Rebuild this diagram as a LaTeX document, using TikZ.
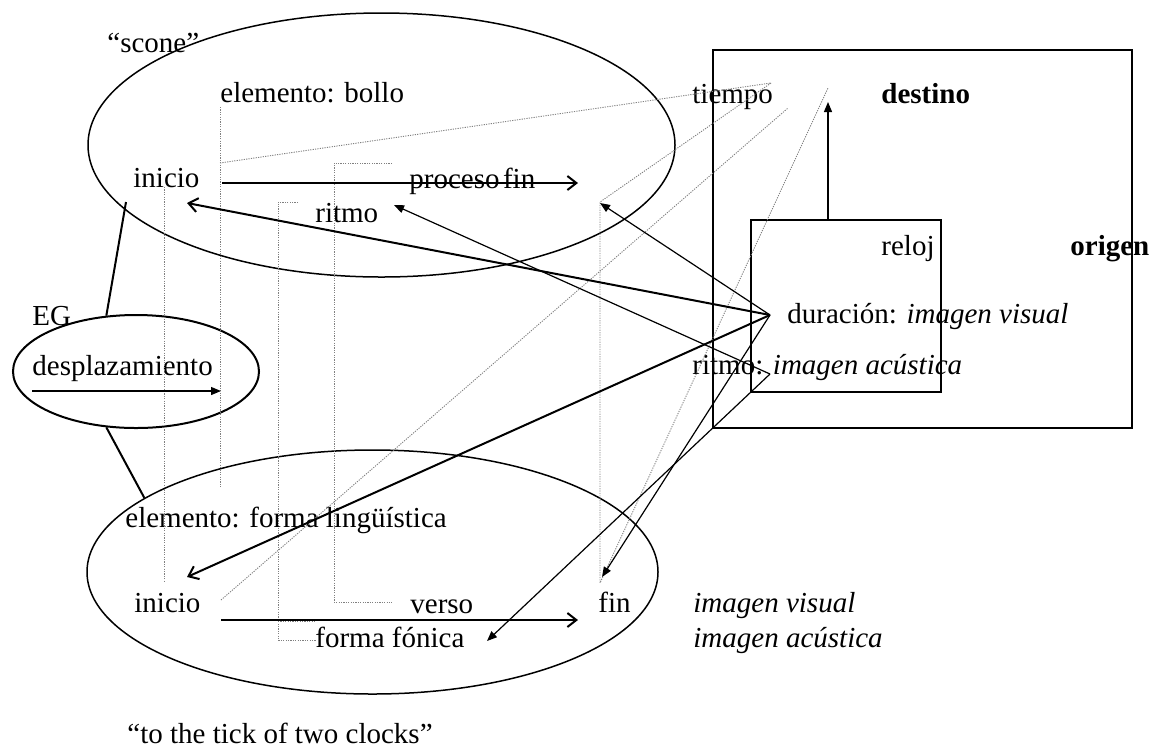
\documentclass[tikz,border=0pt]{standalone}
\usepackage{fontspec}
\setmainfont{Liberation Serif}
\usetikzlibrary{shapes.geometric,arrows.meta,calc}
\begin{document}
\begin{tikzpicture}[x=0.5pt,y=-0.5pt,
  txt/.style={anchor=base west,inner sep=0pt,font=\fontsize{14.5pt}{17pt}\selectfont},
  btxt/.style={txt,font=\fontsize{14.5pt}{17pt}\selectfont\bfseries},
  itxt/.style={txt,font=\fontsize{14.5pt}{17pt}\selectfont\itshape},
  oval/.style={draw,ellipse,inner sep=0pt,line width=0.75pt},
  frame/.style={draw,rectangle,inner sep=0pt,line width=1.3pt},
  thickopen/.style={line width=1pt,-{Straight Barb[length=4.5pt,width=7pt]}},
  thinfill/.style={line width=0.6pt,-{Triangle[length=5pt,width=4pt]}},
  link/.style={line width=1pt},
  dotl/.style={gray,line width=0.45pt,dash pattern=on 0.6pt off 0.6pt}]
\useasboundingbox (0,0) rectangle (1151,751);

% shapes
\node[oval,minimum width=293.5pt,minimum height=132pt] (topE) at (381.5,145) {};
\node[oval,minimum width=285.5pt,minimum height=122pt] (lowE) at (372.5,572) {};
\node[oval,line width=1pt,minimum width=123pt,minimum height=56.5pt] (egE) at (136,371.5) {};
\node[frame,minimum width=209.5pt,minimum height=189pt] (outer) at (922.5,239) {};
\node[frame,minimum width=95pt,minimum height=86pt] (inner) at (846,306) {};

% texts
\node[txt] (scone) at (107,52) {“scone”};
\node[txt] (bollo) at (220,102) {elemento: bollo};
\node[txt] (iniT) at (133,187) {inicio};
\node[txt] (procfin) at (409,188) {proceso\hspace{0.12em}fin};
\node[txt] (ritT) at (315,222) {ritmo};
\node[txt] (tiempo) at (692,103) {tiempo};
\node[btxt] (destino) at (881,103) {destino};
\node[txt] (reloj) at (881,255) {reloj};
\node[btxt] (origen) at (1070,255) {origen};
\node[txt] (durT) at (787,323) {duración: \textit{imagen visual}};
\node[txt] (ritR) at (692,374) {ritmo: \textit{imagen acústica}};
\node[txt] (EG) at (32,325) {EG};
\node[txt] (desp) at (32,375) {desplazamiento};
\node[txt] (elemf) at (125,527) {elemento: forma lingüística};
\node[txt] (iniB) at (134,612) {inicio};
\node[txt] (verso) at (410,613) {verso};
\node[txt] (finB) at (598,612) {fin};
\node[txt] (fonica) at (315,647) {forma fónica};
\node[itxt] (iv) at (693,612) {imagen visual};
\node[itxt] (ia) at (693,647) {imagen acústica};
\node[txt] (clocks) at (127,743) {“to the tick of two clocks”};

% named points
\coordinate (durP) at (770,315);
\coordinate (ritP) at (770,374);
\coordinate (tIniT) at (187,203);
\coordinate (tFinT) at (600,203);
\coordinate (tIniB) at (187,577);
\coordinate (tFinB) at (602,577);
\coordinate (tRit) at (394,205);
\coordinate (tFon) at (487,641);
\coordinate (aTs) at (222,183);
\coordinate (aTe) at (578,183);
\coordinate (aBs) at (221,620);
\coordinate (aBe) at (578,620);
\coordinate (dAs) at (32,391);
\coordinate (dAe) at (221,391);
\coordinate (destTip) at (828,102);
\coordinate (egTop) at (126,202);

% dotted guides
\draw[dotl] (220,107) -- (220,487);
\draw[dotl] (164,187) -- (164,582);
\draw[dotl] (392,163) -- (334,163) -- (334,602) -- (392,602);
\draw[dotl] (298,202) -- (278,202) -- (278,640) -- (316,640);
\draw[dotl] (278,621) -- (316,621);
\draw[dotl] (220,163) -- (771,83);
\draw[dotl] (771,83) -- (600,202) -- (600,583) -- (828,88);
\draw[dotl] (221,600) -- (788,108);

% connectors
\draw[link] (egTop) -- (egE.118);
\draw[link] (egE.242) -- (lowE.162);
\draw[thickopen] (aTs) -- (aTe);
\draw[thickopen] (aBs) -- (aBe);
\draw[thinfill] (dAs) -- (dAe);
\draw[thinfill] (inner.north -| destTip) -- (destTip);
\draw[thickopen] (durP) -- (tIniT);
\draw[thickopen] (durP) -- (tIniB);
\draw[thinfill] (durP) -- (tFinT);
\draw[thinfill] (durP) -- (tFinB);
\draw[thinfill] (ritP) -- (tRit);
\draw[thinfill] (ritP) -- (tFon);
\end{tikzpicture}
\end{document}
